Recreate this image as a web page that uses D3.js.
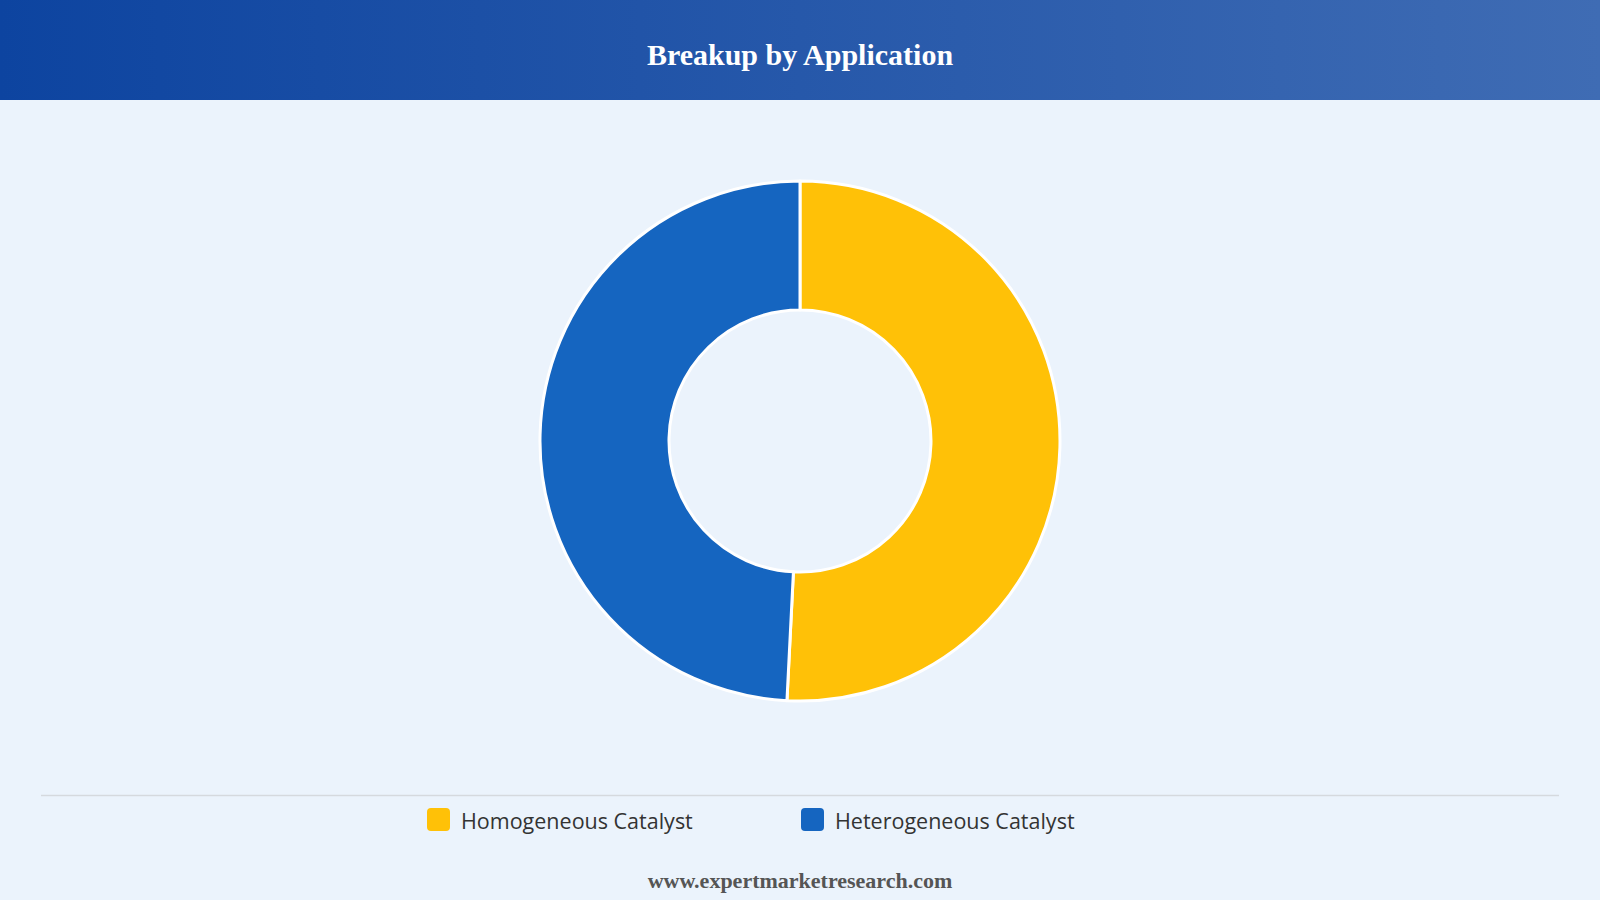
<!DOCTYPE html>
<html><head><meta charset="utf-8">
<script src="https://cdn.jsdelivr.net/npm/d3@7"></script>
<style>html,body{margin:0;padding:0;background:#ebf3fc;}svg{display:block;}</style>
</head><body>
<script>
const categories = ["Homogeneous Catalyst", "Heterogeneous Catalyst"];
const values = [50.8, 49.2];
const colors = ["#ffc107", "#1565c0"];

const W = 1600, H = 900;
const svg = d3.select("body").append("svg").attr("width", W).attr("height", H);
const defs = svg.append("defs");
const grad = defs.append("linearGradient").attr("id", "hg").attr("x1", "0%").attr("x2", "100%");
grad.append("stop").attr("offset", "0%").attr("stop-color", "#0d44a0");
grad.append("stop").attr("offset", "100%").attr("stop-color", "#3f6cb4");
svg.append("rect").attr("width", W).attr("height", H).attr("fill", "#ebf3fc");
svg.append("rect").attr("width", W).attr("height", 100).attr("fill", "url(#hg)");
svg.append("text").attr("x", 800).attr("y", 54).attr("text-anchor", "middle").attr("dominant-baseline", "central")
  .attr("font-family", "Liberation Serif, Times New Roman, serif").attr("font-weight", "bold").attr("font-size", 30)
  .attr("fill", "#ffffff").text("Breakup by Application");

const cx = 800, cy = 441, rOuter = 260, rInner = 131;
const pie = d3.pie().sort(null).value(d => d)(values);
const arc = d3.arc().innerRadius(rInner).outerRadius(rOuter);
const g = svg.append("g").attr("transform", `translate(${cx},${cy})`);
g.selectAll("path").data(pie).join("path").attr("d", arc)
  .attr("fill", (d, i) => colors[i]).attr("stroke", "#ffffff").attr("stroke-width", 3).attr("stroke-linejoin", "round");

svg.append("line").attr("x1", 41).attr("x2", 1559).attr("y1", 795.5).attr("y2", 795.5)
  .attr("stroke", "#d5d9de").attr("stroke-width", 1.5);

const legendX = [427, 801];
const lg = svg.append("g");
categories.forEach((c, i) => {
  lg.append("rect").attr("x", legendX[i]).attr("y", 808).attr("width", 23).attr("height", 23).attr("rx", 4)
    .attr("fill", colors[i]);
  lg.append("text").attr("x", legendX[i] + 34).attr("y", 820).attr("dominant-baseline", "central")
    .attr("font-family", "Open Sans, Noto Sans, sans-serif").attr("font-size", 21.5).attr("fill", "#333333").text(c);
});

svg.append("text").attr("x", 800).attr("y", 880).attr("text-anchor", "middle").attr("dominant-baseline", "central")
  .attr("font-family", "Liberation Serif, Times New Roman, serif").attr("font-weight", "bold").attr("font-size", 22)
  .attr("fill", "#555555").text("www.expertmarketresearch.com");
</script>
</body></html>
